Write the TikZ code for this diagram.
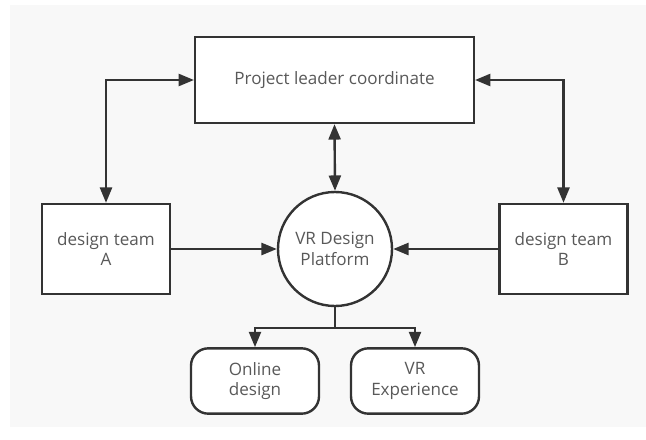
\documentclass[tikz,border=0pt]{standalone}
\usepackage{fontspec}
\setmainfont{Open Sans}
\usetikzlibrary{arrows.meta}

\definecolor{linegray}{HTML}{333333}
\definecolor{textgray}{HTML}{595959}
\definecolor{paper}{HTML}{F8F8F8}

\tikzset{
    box/.style={rectangle, draw=linegray, line width=1.8pt, fill=white,
        text=textgray, align=center, font=\fontsize{12.8}{15.5}\selectfont},
    pill/.style={box, rounded corners=13pt, minimum width=96pt, minimum height=49pt},
    link/.style={draw=linegray, line width=1.8pt,
        -{Triangle[length=11.5pt,width=9pt]}},
    link2/.style={link, {Triangle[length=11.5pt,width=9pt]}-{Triangle[length=11.5pt,width=9pt]}}
}

\begin{document}
\begin{tikzpicture}[x=0.75pt, y=-0.75pt]
    \useasboundingbox (0,0) rectangle (646,439);
    \fill[paper] (10,5) rectangle (646,427);

    \node[box, minimum width=209pt, minimum height=64.5pt] (leader) at (334.5,80) {Project leader coordinate};
    \node[box, minimum width=96pt, minimum height=67.5pt] (teamA) at (106,249) {design team\\A};
    \node[box, minimum width=96pt, minimum height=67.5pt] (teamB) at (563.5,249) {design team\\B};
    \node[box, circle, minimum size=85.5pt, inner sep=0pt] (vr) at (335,249) {VR Design\\Platform};
    \node[pill] (online) at (255,381) {Online\\design};
    \node[pill] (vrexp) at (415,381) {VR\\Experience};
    \coordinate (split) at (335,328);

    % leader <-> teams and platform
    \draw[link2] (leader.west) -| (teamA.north);
    \draw[link2] (leader.east) -| (teamB.north);
    \draw[link2] (leader.south) -- (vr.north);
    % teams feed the platform
    \draw[link] (teamA.east) -- (vr.west);
    \draw[link] (teamB.west) -- (vr.east);
    % platform branches
    \draw[draw=linegray, line width=1.8pt] (vr.south) -- (split);
    \draw[link] (split) -| (online.north);
    \draw[link] (split) -| (vrexp.north);
\end{tikzpicture}
\end{document}
